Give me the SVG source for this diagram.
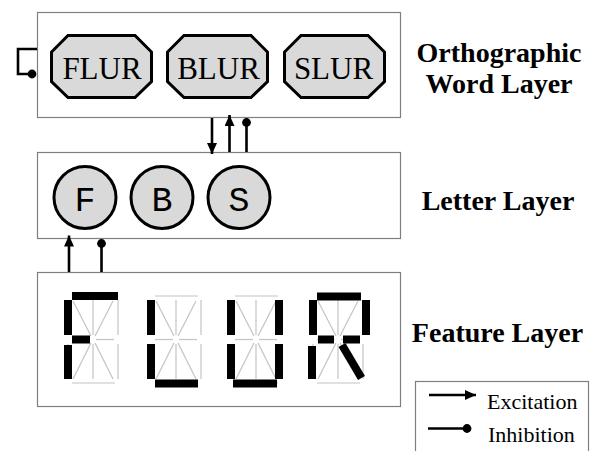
<svg xmlns="http://www.w3.org/2000/svg" xmlns:xlink="http://www.w3.org/1999/xlink" width="597" height="451" viewBox="0 0 597 451">
  <style>
    .layer { fill: #ffffff; stroke: #7f7f7f; stroke-width: 1.2; }
    .unit { fill: #d9d9d9; stroke: #000000; stroke-width: 3; }
    .word { font-family: "Liberation Serif", "Times New Roman", serif; font-size: 31px; text-anchor: middle; fill: #000; }
    .letter { font-family: "Liberation Mono", "Courier New", monospace; font-size: 35px; text-anchor: middle; fill: #000; }
    .title { font-family: "Liberation Serif", "Times New Roman", serif; font-size: 28px; font-weight: bold; text-anchor: middle; fill: #000; }
    .legend { font-family: "Liberation Serif", "Times New Roman", serif; font-size: 22px; fill: #000; }
    .link { fill: none; stroke: #000; stroke-width: 2.6; }
    .seg-off { stroke: #c4c4c4; stroke-width: 1.2; fill: none; }
    .seg-on { fill: #000; }
  </style>
  <defs>
    <marker id="arrow" markerUnits="userSpaceOnUse" markerWidth="12" markerHeight="10" refX="11" refY="5" orient="auto">
      <path d="M0,0 L11,5 L0,10 Z" fill="#000"/>
    </marker>
    <marker id="dot" markerUnits="userSpaceOnUse" markerWidth="10" markerHeight="10" refX="5" refY="5" orient="auto">
      <circle cx="5" cy="5" r="4.4" fill="#000"/>
    </marker>
    <!-- unlit 14-segment skeleton, origin at the left column -->
    <g id="grid" class="seg-off">
      <line x1="4" y1="296" x2="47" y2="296"/>
      <line x1="0" y1="300" x2="0" y2="335"/>
      <line x1="50" y1="300" x2="50" y2="335"/>
      <line x1="0" y1="344" x2="0" y2="379"/>
      <line x1="50" y1="344" x2="50" y2="379"/>
      <line x1="4" y1="383" x2="47" y2="383"/>
      <line x1="4" y1="339.5" x2="22" y2="339.5"/>
      <line x1="28" y1="339.5" x2="46" y2="339.5"/>
      <line x1="25" y1="300" x2="25" y2="335"/>
      <line x1="25" y1="344" x2="25" y2="379"/>
      <line x1="5" y1="301" x2="23" y2="336"/>
      <line x1="45" y1="301" x2="27" y2="336"/>
      <line x1="23" y1="343" x2="5" y2="379"/>
      <line x1="27" y1="343" x2="45" y2="379"/>
    </g>
  </defs>

  <!-- layer frames -->
  <rect class="layer" x="37.5" y="12.5" width="363" height="105"/>
  <rect class="layer" x="37.5" y="152.5" width="363" height="86"/>
  <rect class="layer" x="37.5" y="272.5" width="363" height="134"/>
  <rect class="layer" x="415.5" y="381.5" width="173" height="90"/>

  <!-- word units -->
  <g id="word-flur">
    <polygon class="unit" points="68,35.5 135,35.5 151.5,52 151.5,81.5 135,97.5 68,97.5 51.5,81.5 51.5,52"/>
    <text class="word" x="102" y="79">FLUR</text>
  </g>
  <g id="word-blur">
    <polygon class="unit" points="184,35.5 251,35.5 267.5,52 267.5,81.5 251,97.5 184,97.5 167.5,81.5 167.5,52"/>
    <text class="word" x="218.5" y="79">BLUR</text>
  </g>
  <g id="word-slur">
    <polygon class="unit" points="301,35.5 368,35.5 384.5,52 384.5,81.5 368,97.5 301,97.5 284.5,81.5 284.5,52"/>
    <text class="word" x="333.5" y="79">SLUR</text>
  </g>

  <!-- letter units -->
  <g id="letter-f">
    <circle class="unit" cx="85" cy="197.5" r="31"/>
    <text class="letter" x="85" y="210.5">F</text>
  </g>
  <g id="letter-b">
    <circle class="unit" cx="162" cy="197.5" r="31"/>
    <text class="letter" x="162" y="210.5">B</text>
  </g>
  <g id="letter-s">
    <circle class="unit" cx="239" cy="197.5" r="31"/>
    <text class="letter" x="239" y="210.5">S</text>
  </g>

  <!-- feature displays: F L U R -->
  <g id="feature-f" transform="translate(68,0)">
    <use xlink:href="#grid"/>
    <rect class="seg-on" x="4" y="292" width="46" height="8"/>
    <rect class="seg-on" x="-4" y="300" width="8" height="35"/>
    <rect class="seg-on" x="-4" y="345" width="8" height="34"/>
    <rect class="seg-on" x="4" y="335.5" width="18" height="8"/>
  </g>
  <g id="feature-l" transform="translate(151,0)">
    <use xlink:href="#grid"/>
    <rect class="seg-on" x="-4" y="300" width="8" height="35"/>
    <rect class="seg-on" x="-4" y="344" width="8" height="35"/>
    <rect class="seg-on" x="4" y="379.5" width="43" height="8"/>
  </g>
  <g id="feature-u" transform="translate(231,0)">
    <use xlink:href="#grid"/>
    <rect class="seg-on" x="-4" y="300" width="8" height="35"/>
    <rect class="seg-on" x="44" y="300" width="8" height="35"/>
    <rect class="seg-on" x="-4" y="344" width="8" height="35"/>
    <rect class="seg-on" x="44" y="344" width="8" height="35"/>
    <rect class="seg-on" x="2" y="379.5" width="44" height="8"/>
  </g>
  <g id="feature-r" transform="translate(313,0)">
    <use xlink:href="#grid"/>
    <rect class="seg-on" x="4" y="292.5" width="44" height="8"/>
    <rect class="seg-on" x="-4" y="300" width="8" height="35"/>
    <rect class="seg-on" x="49" y="300" width="8" height="35"/>
    <rect class="seg-on" x="5" y="335.5" width="16" height="8"/>
    <rect class="seg-on" x="30" y="335.5" width="17" height="8"/>
    <rect class="seg-on" x="-5" y="346" width="8" height="33"/>
    <line x1="29" y1="345" x2="48.5" y2="378" stroke="#000" stroke-width="8"/>
  </g>

  <!-- connections between layers -->
  <g id="connectors" class="link">
    <path d="M37,49 H18 V74 H32" marker-end="url(#dot)"/>
    <line x1="212" y1="118" x2="212" y2="154" marker-end="url(#arrow)"/>
    <line x1="229.5" y1="152" x2="229.5" y2="115" marker-end="url(#arrow)"/>
    <line x1="246.5" y1="152" x2="246.5" y2="122.5" marker-end="url(#dot)"/>
    <line x1="69" y1="272" x2="69" y2="235.5" marker-end="url(#arrow)"/>
    <line x1="101.5" y1="272" x2="101.5" y2="243.5" marker-end="url(#dot)"/>
  </g>

  <!-- layer names -->
  <text class="title" x="499" y="62">Orthographic</text>
  <text class="title" x="499" y="93">Word Layer</text>
  <text class="title" x="498" y="210">Letter Layer</text>
  <text class="title" x="497.5" y="342">Feature Layer</text>

  <!-- key -->
  <g id="legend">
    <line class="link" x1="429" y1="395" x2="476" y2="395" marker-end="url(#arrow)"/>
    <line class="link" x1="428" y1="428.5" x2="467" y2="428.5" marker-end="url(#dot)"/>
    <text class="legend" x="487" y="409">Excitation</text>
    <text class="legend" x="488" y="442">Inhibition</text>
  </g>
</svg>
